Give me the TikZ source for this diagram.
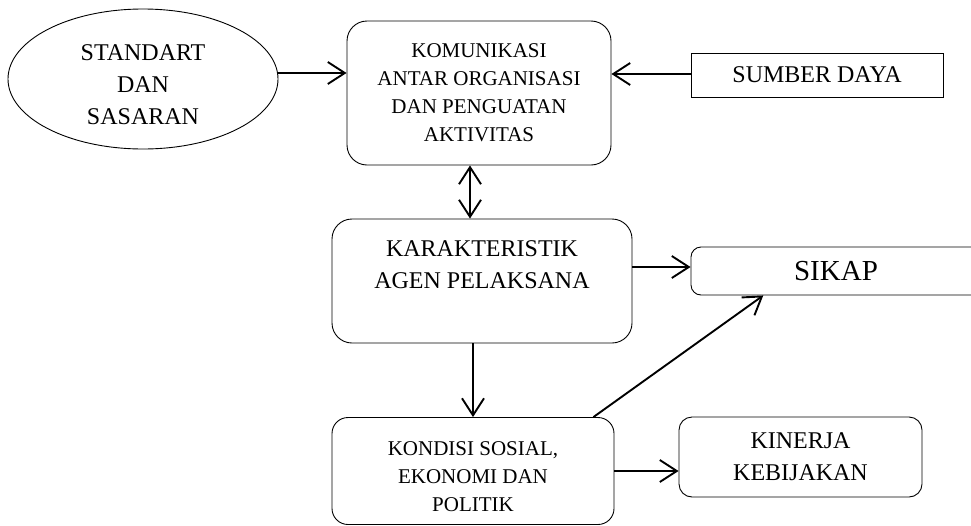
\documentclass[tikz,border=0pt]{standalone}
\usepackage{fontspec}
\setmainfont{Liberation Serif}
\usetikzlibrary{shapes.geometric,arrows.meta,calc}
\begin{document}
\begin{tikzpicture}[x=1pt, y=-1pt,
    >={Straight Barb[length=17pt,width=22pt]},
    box/.style={draw, line width=0.9pt, align=center, inner sep=0pt},
    arr/.style={line width=1.9pt},
    small/.style={font=\fontsize{21}{28}\selectfont},
    big/.style={font=\fontsize{24}{32}\selectfont}]
    \useasboundingbox (0,0) rectangle (971,525);
    \clip (0,0) rectangle (971,525);
    \node[box, big, ellipse, minimum width=270pt, minimum height=140pt, text height=91pt] (std) at (143,79) {STANDART\\DAN\\SASARAN};
    \node[box, small, rounded corners=20pt, minimum width=264pt, minimum height=144pt] (kom) at (479,93) {KOMUNIKASI\\ANTAR ORGANISASI\\DAN PENGUATAN\\AKTIVITAS};
    \node[box, big, minimum width=252pt, minimum height=44pt] (sd) at (817,75) {SUMBER DAYA};
    \node[box, big, rounded corners=20pt, minimum width=300pt, minimum height=124pt] (kar) at (482,281) {KARAKTERISTIK\\AGEN PELAKSANA\\~};
    \node[box, font=\fontsize{29}{34}\selectfont, rounded corners=10pt, minimum width=290pt, minimum height=48pt] (sik) at (836,271) {SIKAP};
    \node[box, small, rounded corners=16pt, minimum width=282pt, minimum height=107pt, text height=81pt] (kon) at (473,471) {KONDISI SOSIAL,\\EKONOMI DAN\\POLITIK};
    \node[box, big, rounded corners=13pt, minimum width=243pt, minimum height=80pt] (kin) at (800.5,457) {KINERJA\\KEBIJAKAN};
    \draw[arr, ->] ([yshift=6pt]std.east) -- ([yshift=6pt]std.east -| kom.west);
    \draw[arr, ->] ([yshift=1pt]sd.west) -- ([yshift=1pt]sd.west -| kom.east);
    \draw[arr, <->] ([xshift=-9pt]kom.south) -- ([xshift=-9pt]kom.south |- kar.north);
    \draw[arr, ->] ([yshift=4pt]kar.east |- sik.west) -- ([yshift=4pt]sik.west);
    \draw[arr, ->] (kon.north |- kar.south) -- (kon.north);
    \draw[arr, ->] (kon.east) -- (kon.east -| kin.west);
    \draw[arr, ->] ([xshift=-21pt]kon.north east) -- ($(sik.south west)!0.25!(sik.south east)$);
\end{tikzpicture}
\end{document}
